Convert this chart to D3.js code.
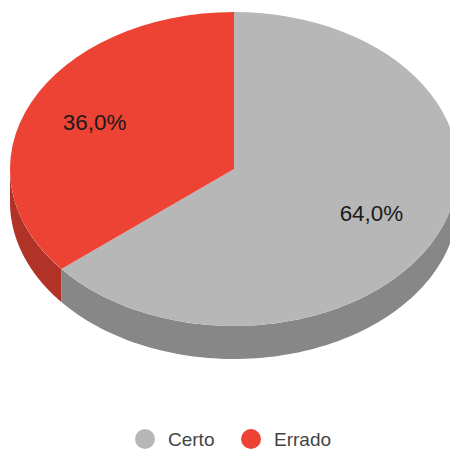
<!DOCTYPE html>
<html>
<head>
<meta charset="utf-8">
<script src="https://cdn.jsdelivr.net/npm/d3@7"></script>
<style>
html,body{margin:0;padding:0;background:#fff;overflow:hidden}
text{font-family:"Liberation Sans",Arial,sans-serif}
</style>
</head>
<body>
<svg id="chart" width="450" height="450"></svg>
<script>
const categories = ["Certo", "Errado"];
const shares = [64.0, 36.0];
const topColors = ["#b7b7b7", "#ec4334"];
const sideColors = ["#878787", "#b13226"];

const cx = 234, cy = 169, rx = 224, ry = 157, depth = 33;
const svg = d3.select("#chart");

const slices = d3.pie().sort(null).value(d => d)(shares);
const color = d3.scaleOrdinal(categories, topColors);
const side = d3.scaleOrdinal(categories, sideColors);
const fmt = v => v.toFixed(1).replace(".", ",") + "%";

// Position on the tilted disc for an angle measured clockwise from 12 o'clock
const px = a => cx + rx * Math.sin(a);
const py = a => cy - ry * Math.cos(a);

// Rim wall: only the part of each slice on the lower half of the ellipse is visible
const rim = d3.area()
  .x(a => px(a))
  .y0(a => py(a))
  .y1(a => py(a) + depth);

svg.append("g").selectAll("path")
  .data(slices)
  .join("path")
  .attr("fill", (d, i) => side(categories[i]))
  .attr("d", d => {
    const a0 = Math.max(d.startAngle, Math.PI / 2);
    const a1 = Math.min(d.endAngle, Math.PI * 1.5);
    if (a1 <= a0) return null;
    const n = 90;
    return rim(d3.range(n + 1).map(k => a0 + (a1 - a0) * k / n));
  });

// Top face: a circular arc squashed into the ellipse
const arc = d3.arc().innerRadius(0).outerRadius(rx);
svg.append("g")
  .attr("transform", `translate(${cx},${cy}) scale(1,${ry / rx})`)
  .selectAll("path")
  .data(slices)
  .join("path")
  .attr("fill", (d, i) => color(categories[i]))
  .attr("d", arc);

// Value labels placed on the slices
const labelRadius = 0.683;
svg.append("g").selectAll("text")
  .data(slices)
  .join("text")
  .attr("text-anchor", "middle")
  .attr("font-size", 22.4)
  .attr("fill", "#1a1a1a")
  .attr("x", d => {
    const a = (d.startAngle + d.endAngle) / 2;
    return cx + rx * labelRadius * Math.sin(a) - 1;
  })
  .attr("y", d => {
    const a = (d.startAngle + d.endAngle) / 2;
    return cy - ry * labelRadius * Math.cos(a) + 6.5;
  })
  .text(d => fmt(d.data));

// Legend
const legendX = d3.scalePoint().domain(categories).range([145, 251]);
const legend = svg.append("g").selectAll("g")
  .data(categories)
  .join("g")
  .attr("transform", d => `translate(${legendX(d)},439)`);
legend.append("circle").attr("r", 10).attr("fill", d => color(d));
legend.append("text")
  .attr("x", 23)
  .attr("y", 6.5)
  .attr("font-size", 19)
  .attr("fill", "#444")
  .text(d => d);
</script>
</body>
</html>
